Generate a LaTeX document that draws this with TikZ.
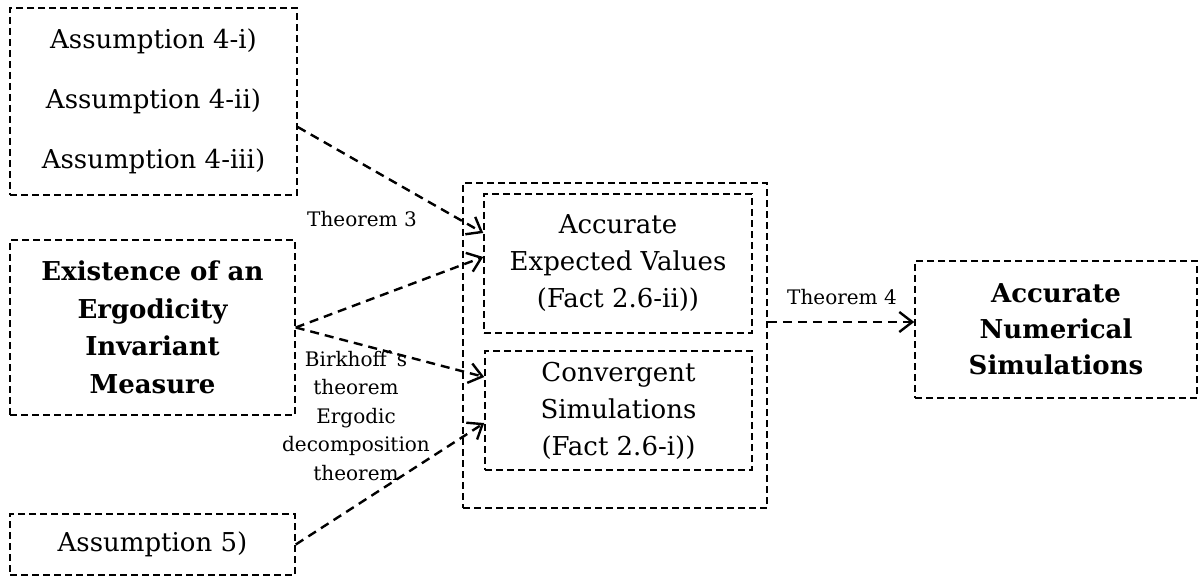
\documentclass[tikz,border=0pt]{standalone}
\usepackage{fontspec}
\setmainfont{DejaVu Serif}
\usetikzlibrary{arrows.meta}
\begin{document}
\begin{tikzpicture}[x=1pt,y=-1pt,
 box/.style={draw, line width=1.5pt, dash pattern=on 7pt off 4pt, inner sep=0pt, align=center, font=\fontsize{26}{37}\selectfont},
 conn/.style={line width=2.4pt, dash pattern=on 9pt off 6pt, -{Straight Barb[length=13pt,width=20pt]}},
 lbl/.style={align=center, font=\fontsize{20}{28.5}\selectfont, inner sep=0pt}]
\useasboundingbox (0,0) rectangle (1204,577);
\node[box, minimum width=287pt, minimum height=187pt, font=\fontsize{26}{60}\selectfont] (a4) at (153.5,101.5) {Assumption 4-i)\\Assumption 4-ii)\\Assumption 4-iii)};
\node[box, minimum width=285pt, minimum height=175pt, font=\fontsize{26}{37.5}\selectfont\bfseries] (ex) at (152.5,327.5) {Existence of an\\Ergodicity\\Invariant\\Measure};
\node[box, minimum width=285pt, minimum height=61pt] (a5) at (152.5,544.5) {Assumption 5)};
\node[box, minimum width=304pt, minimum height=325pt] (outer) at (615,345.5) {};
\node[box, minimum width=268pt, minimum height=139pt] (acc) at (618,263.5) {Accurate\\Expected Values\\(Fact 2.6-ii))};
\node[box, minimum width=267pt, minimum height=119pt] (conv) at (618.5,410.5) {Convergent\\Simulations\\(Fact 2.6-i))};
\node[box, minimum width=282pt, minimum height=137pt, font=\fontsize{26}{36}\selectfont\bfseries] (num) at (1056,329.5) {Accurate\\Numerical\\Simulations};
\draw[conn] ([yshift=-25.5pt]a4.east) -- ([yshift=30.5pt]acc.west);
\draw[conn] (ex.east) -- ([yshift=6.5pt]acc.west);
\draw[conn] (ex.east) -- ([yshift=33.5pt]conv.west);
\draw[conn] (a5.east) -- ([yshift=-12.5pt]conv.west);
\draw[conn] ([yshift=23.5pt]outer.east) -- ([yshift=7.5pt]num.west);
\node[lbl] (t3) at (362,219) {Theorem 3};
\node[lbl] (t4) at (842,297) {Theorem 4};
\node[lbl] (bk) at (356,415.5) {Birkhoff\textasciigrave s\\theorem\\Ergodic\\decomposition\\theorem};
\end{tikzpicture}
\end{document}
